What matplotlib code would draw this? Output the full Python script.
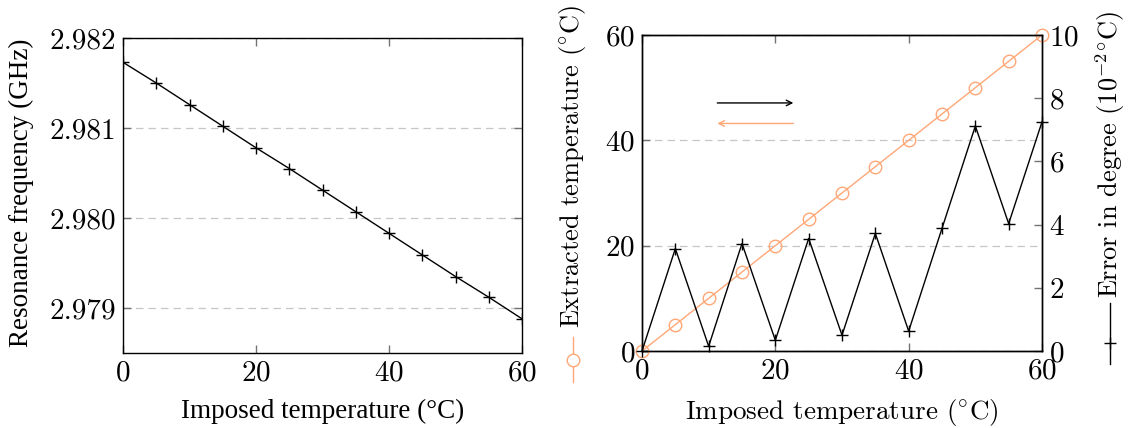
import matplotlib
matplotlib.use("Agg")
import matplotlib.pyplot as plt
from matplotlib.lines import Line2D

# imposed temperatures (degC), shared by both panels
imposed = [0, 5, 10, 15, 20, 25, 30, 35, 40, 45, 50, 55, 60]

# left panel: resonance frequency (GHz)
freq = [2.98173, 2.98150, 2.98126, 2.98102, 2.98078, 2.98055, 2.98031,
        2.98007, 2.97983, 2.97959, 2.97935, 2.97912, 2.97888]

# right panel: extracted temperature (degC) and error (1e-2 degC)
extracted = [0, 5, 10, 15, 20, 25, 30, 35, 40, 45, 50, 55, 60]
error = [0.0, 3.24, 0.15, 3.40, 0.34, 3.56, 0.50, 3.72, 0.63, 3.88, 7.12, 4.03, 7.25]

left_yticks = [2.979, 2.980, 2.981, 2.982]
temp_ticks = [0, 20, 40, 60]
err_ticks = [0, 2, 4, 6, 8, 10]

ORANGE = "#FFA777"
TICK_GRAY = "0.45"
FS = 21         # tick labels
FS_LEFT = 19.5  # left panel labels (Times-like)
FS_RIGHT = 19.5  # right panel labels

plt.rcParams["font.family"] = "serif"
plt.rcParams["font.serif"] = ["cmr10", "DejaVu Serif"]
plt.rcParams["mathtext.fontset"] = "cm"
plt.rcParams["axes.unicode_minus"] = False
plt.rcParams["axes.formatter.use_mathtext"] = True

fig = plt.figure(figsize=(11.28, 4.28), dpi=100)
ax1 = fig.add_axes([123 / 1128, 1 - 353 / 428, 399 / 1128, 315 / 428])
ax2 = fig.add_axes([642 / 1128, 1 - 351 / 428, 400 / 1128, 316 / 428])
ax3 = ax2.twinx()


def style_ticks(ax, **kw):
    ax.tick_params(direction="in", length=6, width=1, color=TICK_GRAY,
                   labelcolor="black", labelsize=FS, pad=5, **kw)


def dashed_grid(ax):
    ax.grid(axis="y", color="0.78", linestyle=(0, (6, 4)), linewidth=0.9)
    ax.set_axisbelow(True)


# ---- left panel ----
ax1.plot(imposed, freq, color="black", lw=1, marker="+", ms=9, mew=1)
ax1.set_xlim(0, 60)
ax1.set_ylim(2.9785, 2.982)
ax1.set_xticks(temp_ticks)
ax1.set_yticks(left_yticks)
ax1.set_yticklabels([f"{v:.3f}" for v in left_yticks])
style_ticks(ax1, top=True, right=True)
dashed_grid(ax1)
ax1.set_xlabel("Imposed temperature (°C)", fontsize=FS_LEFT,
               family="Liberation Serif")
ax1.set_ylabel("Resonance frequency (GHz)", fontsize=FS_LEFT,
               family="Liberation Serif")
ax1.xaxis.set_label_coords(0.5, -0.145)
ax1.yaxis.set_label_coords(-0.222, 0.51)

# ---- right panel ----
ax2.plot(imposed, extracted, color=ORANGE, lw=1, marker="o", ms=9,
         mfc="none", mec=ORANGE, mew=1, clip_on=False, zorder=3)
ax2.set_xlim(0, 60)
ax2.set_ylim(0, 60)
ax2.set_xticks(temp_ticks)
ax2.set_yticks(temp_ticks)
style_ticks(ax2, top=True)
dashed_grid(ax2)
ax2.set_xlabel(r"Imposed temperature ($^{\circ}$C)", fontsize=FS_RIGHT)
ax2.xaxis.set_label_coords(0.5, -0.145)

ax3.plot(imposed, error, color="black", lw=1, marker="+", ms=9, mew=1,
         clip_on=False)
ax3.set_ylim(0, 10)
ax3.set_yticks(err_ticks)
style_ticks(ax3, left=False)

for ax in (ax1, ax2, ax3):
    for sp in ax.spines.values():
        sp.set_linewidth(1)

# arrows telling which axis each curve uses
arrow_x = [11.3, 22.7]
arrow_y = [47.1, 43.2]
ax2.annotate("", xy=(arrow_x[1], arrow_y[0]), xytext=(arrow_x[0], arrow_y[0]),
             arrowprops=dict(arrowstyle="->", color="black", lw=1,
                             shrinkA=0, shrinkB=0))
ax2.annotate("", xy=(arrow_x[0], arrow_y[1]), xytext=(arrow_x[1], arrow_y[1]),
             arrowprops=dict(arrowstyle="->", color=ORANGE, lw=1,
                             shrinkA=0, shrinkB=0))

# y labels with inline legend glyphs
W, H = 1128, 428
fig.text(573 / W, 1 - 328 / H, r"Extracted temperature ($^{\circ}$C)",
         rotation=90, ha="center", va="bottom", fontsize=19)
fig.add_artist(Line2D([572.5 / W] * 2, [1 - 337 / H, 1 - 382 / H],
                      transform=fig.transFigure, color=ORANGE, lw=1))
fig.add_artist(Line2D([572.5 / W], [1 - 360 / H], transform=fig.transFigure,
                      color=ORANGE, marker="o", ms=9, mfc="white", mec=ORANGE,
                      mew=1, lw=0))

fig.text(1110 / W, 1 - 298 / H, r"Error in degree ($10^{-2}$$^{\circ}$C)",
         rotation=90, ha="center", va="bottom", fontsize=19)
fig.add_artist(Line2D([1110 / W] * 2, [1 - 303 / H, 1 - 364 / H],
                      transform=fig.transFigure, color="black", lw=1))
fig.add_artist(Line2D([1110 / W], [1 - 343 / H], transform=fig.transFigure,
                      color="black", marker="+", ms=9, mew=1, lw=0))

fig.savefig("out.png", dpi=100)
